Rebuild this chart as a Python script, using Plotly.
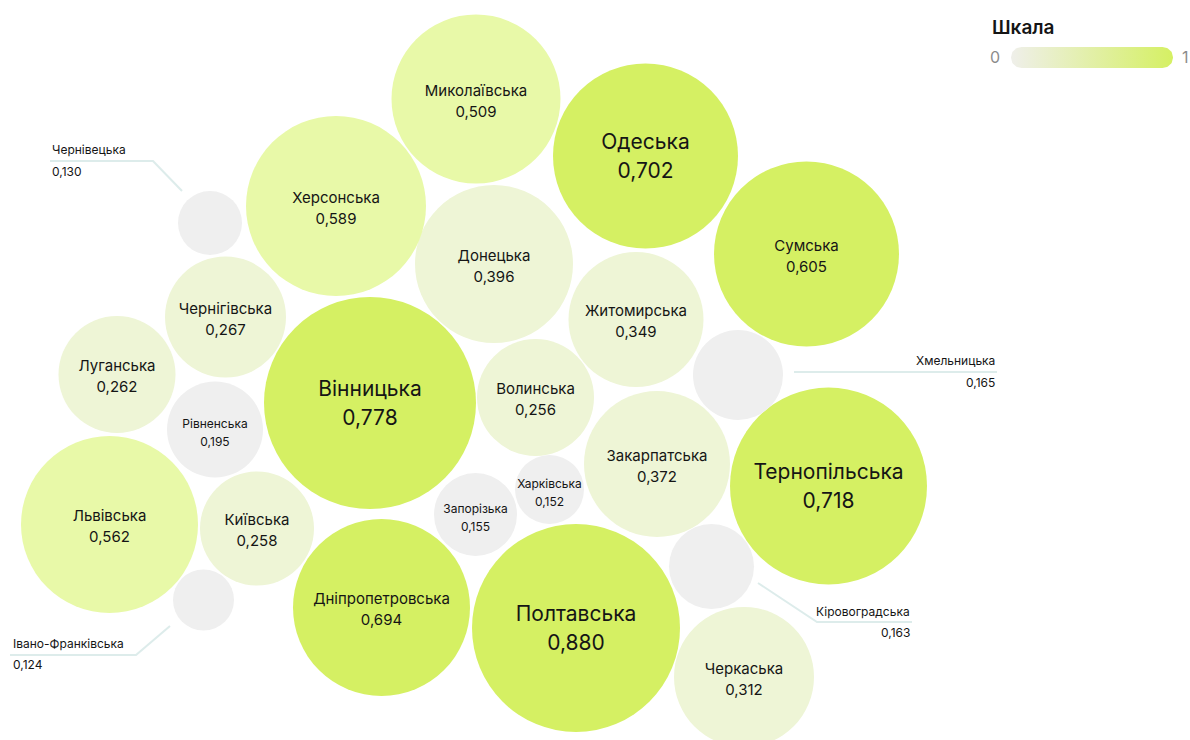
import numpy as np
import plotly.graph_objects as go

# Regions and index values
regions = [
    'Вінницька', 'Волинська', 'Дніпропетровська', 'Донецька', 'Житомирська',
    'Закарпатська', 'Запорізька', 'Івано-Франківська', 'Київська', 'Кіровоградська',
    'Луганська', 'Львівська', 'Миколаївська', 'Одеська', 'Полтавська',
    'Рівненська', 'Сумська', 'Тернопільська', 'Харківська', 'Херсонська',
    'Хмельницька', 'Черкаська', 'Чернівецька', 'Чернігівська',
]
values = [
    0.778, 0.256, 0.694, 0.396, 0.349,
    0.372, 0.155, 0.124, 0.258, 0.163,
    0.262, 0.562, 0.509, 0.702, 0.880,
    0.195, 0.605, 0.718, 0.152, 0.589,
    0.165, 0.312, 0.130, 0.267,
]

# Packed-bubble layout (pixel units)
bubble_x = [
    370, 535.5, 381.5, 494, 636,
    657, 475.5, 203.5, 257, 711.5,
    117, 109.5, 476, 645.5, 576,
    215, 806.5, 828.5, 549.5, 336,
    738, 744, 210, 225.5,
]
bubble_y = [
    403, 397.5, 607.5, 264, 319.5,
    464, 514.5, 600, 528.5, 566.5,
    374.5, 524.5, 99, 156, 628,
    429.5, 254, 486, 489.5, 206,
    375, 677, 223, 317,
]
bubble_r = [
    106, 58.5, 88.5, 79, 67.5,
    73, 41.5, 30.5, 57, 42.5,
    58.5, 88.5, 84.5, 92.5, 104,
    48, 92.5, 98.5, 34.5, 90,
    45, 70, 32, 60.5,
]

# Regions labelled outside their bubble, with leader lines
outside = {
    'Чернівецька': dict(x=50, anchor='left', name_y=149, value_y=171,
                        path=[(50, 161), (153, 161), (182, 191)]),
    'Хмельницька': dict(x=997, anchor='right', name_y=360, value_y=382,
                        path=[(794, 372), (997, 372)]),
    'Івано-Франківська': dict(x=11, anchor='left', name_y=643, value_y=664,
                              path=[(170, 626), (136, 655), (10, 655)]),
    'Кіровоградська': dict(x=912, anchor='right', name_y=611, value_y=632,
                           path=[(758, 583), (817, 622), (912, 622)]),
}

FONT = 'Inter, Noto Sans, sans-serif'
TEXT_COLOR = '#151515'
GRAY, PALE, LIGHT, BRIGHT = '#efefef', '#eef5d6', '#e8f9a8', '#d5f063'

colorscale = [
    [0.0, GRAY], [0.2, GRAY],
    [0.2, PALE], [0.4, PALE],
    [0.4, LIGHT], [0.6, LIGHT],
    [0.6, BRIGHT], [1.0, BRIGHT],
]


def fmt(v):
    return f"{v:.3f}".replace('.', ',')


fig = go.Figure()

# Bubbles
fig.add_trace(go.Scatter(
    x=bubble_x, y=bubble_y,
    mode='markers',
    marker=dict(
        size=[2 * r for r in bubble_r],
        color=values, colorscale=colorscale, cmin=0, cmax=1,
        line=dict(width=0), opacity=1,
    ),
    text=regions,
    hovertemplate='%{text}<extra></extra>',
    showlegend=False,
))

# Inner labels (size tier by value)
inner = [i for i, name in enumerate(regions) if name not in outside]
sizes, name_dy, value_dy = [], [], []
for i in inner:
    v = values[i]
    if v >= 0.7:
        sizes.append(21); name_dy.append(-12); value_dy.append(17)
    elif v >= 0.2:
        sizes.append(15); name_dy.append(-7); value_dy.append(14)
    else:
        sizes.append(12); name_dy.append(-5); value_dy.append(13)

fig.add_trace(go.Scatter(
    x=[bubble_x[i] for i in inner],
    y=[bubble_y[i] + d for i, d in zip(inner, name_dy)],
    mode='text',
    text=[regions[i] for i in inner],
    textfont=dict(family=FONT, size=sizes, color=TEXT_COLOR),
    hoverinfo='skip', showlegend=False,
))
fig.add_trace(go.Scatter(
    x=[bubble_x[i] for i in inner],
    y=[bubble_y[i] + d for i, d in zip(inner, value_dy)],
    mode='text',
    text=[fmt(values[i]) for i in inner],
    textfont=dict(family=FONT, size=sizes, color=TEXT_COLOR),
    hoverinfo='skip', showlegend=False,
))

# Outside labels + leader lines
for name, o in outside.items():
    v = values[regions.index(name)]
    pts = o['path']
    fig.add_shape(
        type='path',
        path='M ' + ' L '.join(f'{px},{py}' for px, py in pts),
        line=dict(color='#ddeceb', width=2),
        xref='x', yref='y', layer='below',
    )
    fig.add_annotation(x=o['x'], y=o['name_y'], text=name, showarrow=False,
                       xanchor=o['anchor'], yanchor='middle',
                       font=dict(family=FONT, size=12, color=TEXT_COLOR))
    fig.add_annotation(x=o['x'], y=o['value_y'], text=fmt(v), showarrow=False,
                       xanchor=o['anchor'], yanchor='middle',
                       font=dict(family=FONT, size=12, color=TEXT_COLOR))

# Scale legend: rounded gradient pill
x0, x1, yc, rad = 1011, 1173, 57.5, 10.5
t1 = np.linspace(np.pi / 2, 3 * np.pi / 2, 30)
t2 = np.linspace(-np.pi / 2, np.pi / 2, 30)
pill_x = list(x0 + rad + rad * np.cos(t1)) + list(x1 - rad + rad * np.cos(t2))
pill_y = list(yc - rad * np.sin(t1)) + list(yc - rad * np.sin(t2))
fig.add_trace(go.Scatter(
    x=pill_x, y=pill_y, mode='lines', fill='toself',
    line=dict(width=0),
    fillgradient=dict(type='horizontal',
                      colorscale=[[0, '#efefea'], [1, BRIGHT]]),
    hoverinfo='skip', showlegend=False,
))
fig.add_annotation(x=990, y=27, text='Шкала', showarrow=False,
                   xanchor='left', yanchor='middle',
                   font=dict(family=FONT, size=19, color=TEXT_COLOR, weight=600))
fig.add_annotation(x=995, y=57, text='0', showarrow=False,
                   xanchor='center', yanchor='middle',
                   font=dict(family=FONT, size=16, color='#8c8c8c'))
fig.add_annotation(x=1185, y=57, text='1', showarrow=False,
                   xanchor='center', yanchor='middle',
                   font=dict(family=FONT, size=16, color='#8c8c8c'))

fig.update_xaxes(range=[0, 1190], visible=False, fixedrange=True)
fig.update_yaxes(range=[740, 0], visible=False, fixedrange=True)
fig.update_layout(
    width=1190, height=740,
    margin=dict(l=0, r=0, t=0, b=0),
    paper_bgcolor='white', plot_bgcolor='white',
    showlegend=False,
)

# drop the browser's default body margin so the figure fills the window
fig.write_html("out.html", config={'displayModeBar': False},
               post_script="document.body.style.margin='0';document.body.style.overflow='hidden';")
